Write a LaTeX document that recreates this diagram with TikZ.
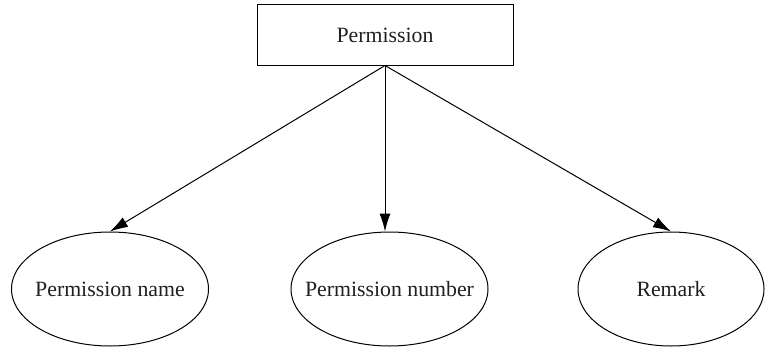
\documentclass[tikz,border=0pt]{standalone}
\usepackage{fontspec}
\setmainfont{Liberation Serif}
\usetikzlibrary{shapes.geometric,arrows.meta}
\definecolor{ink}{HTML}{231F20}
% zero-width text so that the ellipse keeps its given size
\newcommand{\attrtext}[1]{\makebox[0pt][c]{#1}}
\begin{document}
\begin{tikzpicture}[x=1pt,y=1pt,
  every node/.style={font=\fontsize{21.8}{26}\selectfont, text=ink},
  entity/.style={draw=black, line width=1pt, rectangle, minimum width=256pt, minimum height=60pt, inner sep=0pt},
  attr/.style={draw=black, line width=1pt, ellipse, minimum height=114pt, inner sep=0pt},
  link/.style={draw=black, line width=1pt, -{Latex[length=18pt,width=11pt]}}]
  \useasboundingbox (0,0) rectangle (765,349);
  \node[entity] (perm) at (385,314) {Permission};
  \node[attr, minimum width=197pt] (pname) at (110,60) {\attrtext{Permission name}};
  \node[attr, minimum width=197pt] (pnum) at (389.5,60) {\attrtext{Permission number}};
  \node[attr, minimum width=186pt] (rem) at (671,60) {\attrtext{Remark}};
  \draw[link] (perm.south) -- (pname.north);
  \draw[link] (perm.south) -- (perm.south |- pnum.north);
  \draw[link] (perm.south) -- (rem.north);
\end{tikzpicture}
\end{document}
